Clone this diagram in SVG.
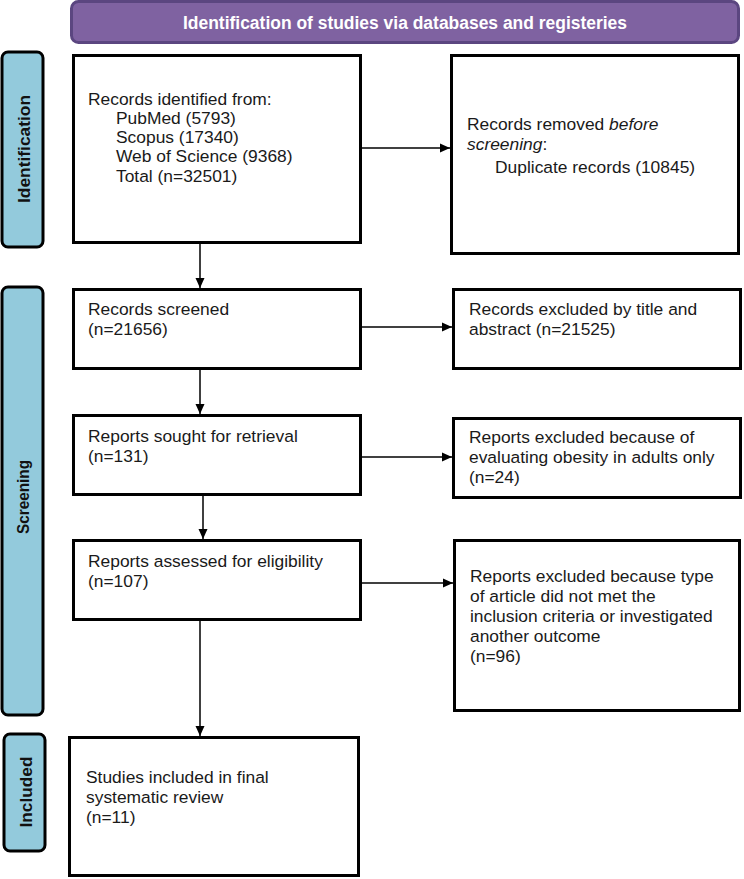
<svg xmlns="http://www.w3.org/2000/svg" width="744" height="879" viewBox="0 0 744 879">
<defs>
<style>
.box{fill:#fff;stroke:#000;stroke-width:3}
.side{fill:#93cadc;stroke:#000;stroke-width:3}
.t{font-family:"Liberation Sans",Arial,sans-serif;font-size:17.4px;fill:#1a1a1a}
.lab{font-family:"Liberation Sans",Arial,sans-serif;font-size:17px;font-weight:bold;fill:#111}
.hdr{font-family:"Liberation Sans",Arial,sans-serif;font-size:17.5px;font-weight:bold;fill:#fff}
.con{stroke:#000;stroke-width:1.5;fill:none;marker-end:url(#arr)}
</style>
<marker id="arr" markerUnits="userSpaceOnUse" markerWidth="11" markerHeight="10" refX="10" refY="5" orient="auto">
<path d="M0,0.5 L10,5 L0,9.5 z" fill="#000"/>
</marker>
</defs>
<rect width="744" height="879" fill="#fff"/>

<g id="header">
<rect x="71.5" y="1.5" width="667" height="41" rx="7" fill="#7f62a1" stroke="#5b4680" stroke-width="3"/>
<text class="hdr" x="405" y="29" text-anchor="middle" textLength="444" lengthAdjust="spacingAndGlyphs">Identification of studies via databases and registeries</text>
</g>

<g id="side-identification">
<rect class="side" x="2" y="52" width="41" height="195" rx="6"/>
<text class="lab" transform="translate(30,149) rotate(-90)" text-anchor="middle" textLength="108" lengthAdjust="spacingAndGlyphs">Identification</text>
</g>
<g id="side-screening">
<rect class="side" x="2" y="287" width="41" height="428" rx="6"/>
<text class="lab" transform="translate(29,497) rotate(-90)" text-anchor="middle" textLength="74" lengthAdjust="spacingAndGlyphs">Screening</text>
</g>
<g id="side-included">
<rect class="side" x="4" y="734" width="41" height="117" rx="6"/>
<text class="lab" transform="translate(32,792) rotate(-90)" text-anchor="middle" textLength="71" lengthAdjust="spacingAndGlyphs">Included</text>
</g>

<g id="identified">
<rect class="box" x="73.5" y="55.5" width="287" height="187"/>
<text class="t" x="88" y="105">Records identified from:</text>
<text class="t" x="116" y="124">PubMed (5793)</text>
<text class="t" x="116" y="143">Scopus (17340)</text>
<text class="t" x="116" y="162">Web of Science (9368)</text>
<text class="t" x="116" y="182">Total (n=32501)</text>
</g>

<g id="removed">
<rect class="box" x="451.5" y="55.5" width="287" height="198"/>
<text class="t" x="467" y="130">Records removed <tspan font-style="italic">before</tspan></text>
<text class="t" x="467" y="150"><tspan font-style="italic">screening</tspan>:</text>
<text class="t" x="495" y="173">Duplicate records (10845)</text>
</g>

<g id="screened">
<rect class="box" x="73.5" y="289.5" width="287" height="79"/>
<text class="t" x="88" y="315">Records screened</text>
<text class="t" x="88" y="335">(n=21656)</text>
</g>

<g id="excluded-title">
<rect class="box" x="453.5" y="289.5" width="287" height="79"/>
<text class="t" x="469" y="315">Records excluded by title and</text>
<text class="t" x="469" y="335">abstract (n=21525)</text>
</g>

<g id="sought">
<rect class="box" x="73.5" y="415.5" width="287" height="79"/>
<text class="t" x="88" y="442">Reports sought for retrieval</text>
<text class="t" x="88" y="462">(n=131)</text>
</g>

<g id="excluded-adults">
<rect class="box" x="453.5" y="418.5" width="287" height="79"/>
<text class="t" x="469" y="443">Reports excluded because of</text>
<text class="t" x="469" y="463">evaluating obesity in adults only</text>
<text class="t" x="469" y="483">(n=24)</text>
</g>

<g id="assessed">
<rect class="box" x="73.5" y="540.5" width="287" height="79"/>
<text class="t" x="88" y="567">Reports assessed for eligibility</text>
<text class="t" x="88" y="587">(n=107)</text>
</g>

<g id="excluded-type">
<rect class="box" x="454.5" y="540.5" width="285" height="170"/>
<text class="t" x="470" y="582">Reports excluded because type</text>
<text class="t" x="470" y="602">of article did not met the</text>
<text class="t" x="470" y="622">inclusion criteria or investigated</text>
<text class="t" x="470" y="642">another outcome</text>
<text class="t" x="470" y="662">(n=96)</text>
</g>

<g id="included">
<rect class="box" x="69.5" y="737.5" width="289" height="138"/>
<text class="t" x="86" y="783">Studies included in final</text>
<text class="t" x="86" y="803">systematic review</text>
<text class="t" x="86" y="823">(n=11)</text>
</g>

<g id="connectors">
<line class="con" x1="362" y1="148" x2="450" y2="148"/>
<line class="con" x1="200" y1="243" x2="200" y2="288"/>
<line class="con" x1="362" y1="327" x2="452" y2="327"/>
<line class="con" x1="200" y1="370" x2="200" y2="414"/>
<line class="con" x1="362" y1="457" x2="452" y2="457"/>
<line class="con" x1="203" y1="496" x2="203" y2="539"/>
<line class="con" x1="362" y1="583" x2="453" y2="583"/>
<line class="con" x1="200" y1="621" x2="200" y2="736"/>
</g>
</svg>
